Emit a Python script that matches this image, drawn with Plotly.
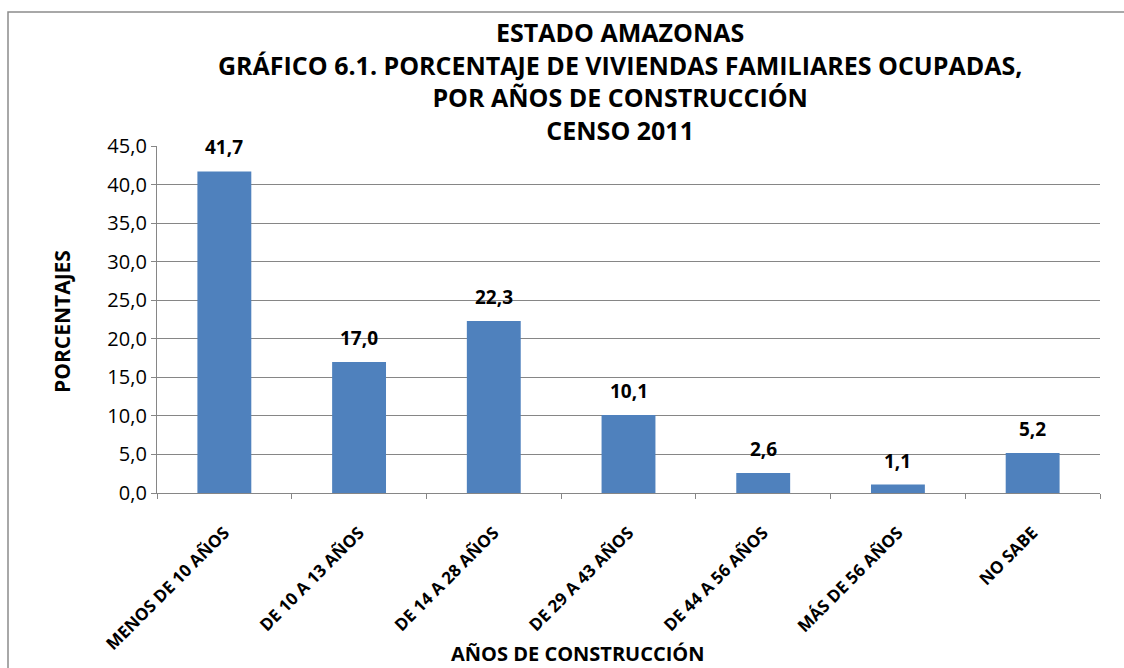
import plotly.graph_objects as go

categories = ["MENOS DE 10 AÑOS", "DE 10 A 13 AÑOS", "DE 14 A 28 AÑOS", "DE 29 A 43 AÑOS",
              "DE 44 A 56 AÑOS", "MÁS DE 56 AÑOS", "NO SABE"]
values = [41.7, 17.0, 22.3, 10.1, 2.6, 1.1, 5.2]
y_ticks = [0, 5, 10, 15, 20, 25, 30, 35, 40, 45]

title_lines = ["ESTADO AMAZONAS",
               "GRÁFICO 6.1. PORCENTAJE DE VIVIENDAS FAMILIARES OCUPADAS,",
               "POR AÑOS DE CONSTRUCCIÓN",
               "CENSO 2011"]

W, H = 1124, 668
L, R, T, B = 157, 24, 146, 175
pw, ph = W - L - R, H - T - B

def px_x(x):
    return (x - L) / pw

def px_y(y):
    return (H - B - y) / ph

FONT = "Open Sans"
GRID = "#868686"

fig = go.Figure(go.Bar(x=categories, y=values, marker_color="#4F81BD",
                       marker_line_width=0, width=0.4))

ann = []
for c, v in zip(categories, values):
    ann.append(dict(x=c, y=v, xref="x", yref="y", text="<b>" + f"{v:.1f}".replace(".", ",") + "</b>",
                    showarrow=False, yshift=24, font=dict(family=FONT, size=19, color="black")))
ann.append(dict(x=px_x(620), y=px_y(81), xref="paper", yref="paper",
                text="<br>".join(f"<b>{line}</b>" for line in title_lines),
                showarrow=False, xanchor="center", yanchor="middle", align="center",
                font=dict(family=FONT, size=25, color="black")))
ann.append(dict(x=px_x(578), y=px_y(653), xref="paper", yref="paper", text="<b>AÑOS DE CONSTRUCCIÓN</b>",
                showarrow=False, xanchor="center", yanchor="middle",
                font=dict(family=FONT, size=20, color="black")))
ann.append(dict(x=px_x(62), y=px_y(322), xref="paper", yref="paper", text="<b>PORCENTAJES</b>",
                showarrow=False, xanchor="center", yanchor="middle", textangle=-90,
                font=dict(family=FONT, size=21, color="black")))

fig.update_layout(
    width=W, height=H,
    margin=dict(l=L, r=R, t=T, b=B),
    paper_bgcolor="white", plot_bgcolor="white",
    separators=",.",
    showlegend=False,
    annotations=ann,
    shapes=[dict(type="rect", xref="paper", yref="paper",
                 x0=px_x(8), x1=px_x(1200), y0=px_y(750), y1=px_y(12),
                 line=dict(color="#8c8c8c", width=1.5), fillcolor="rgba(0,0,0,0)", layer="below")],
    xaxis=dict(type="category", showgrid=False, showline=True, linecolor=GRID, linewidth=1.3,
               ticks="outside", ticklen=5, tickcolor=GRID, tickson="boundaries",
               tickangle=-45, tickfont=dict(family=FONT, size=17, color="black"),
               tickprefix="<b>", ticksuffix="</b>", ticklabelstandoff=22),
    yaxis=dict(range=[0, 45], tickvals=y_ticks, tickformat=".1f", showgrid=True, gridcolor=GRID,
               gridwidth=1.3, showline=True, linecolor=GRID, linewidth=1.3, ticks="outside",
               ticklen=5, tickcolor=GRID, zeroline=False,
               tickfont=dict(family=FONT, size=20, color="black")),
    font=dict(family=FONT),
)

fig.write_html("out.html", config={"displayModeBar": False},
               post_script="document.body.style.margin='0';document.body.style.overflow='hidden';")
